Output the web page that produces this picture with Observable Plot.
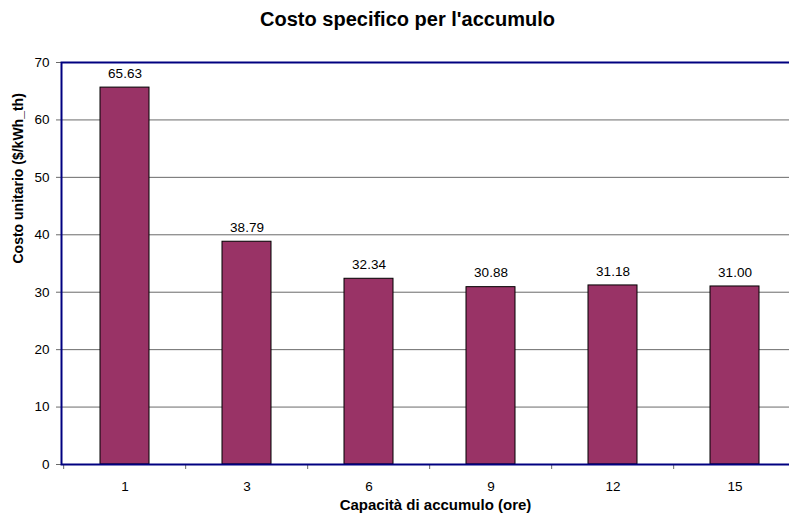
<!DOCTYPE html>
<html>
<head>
<meta charset="utf-8">
<script src="https://cdn.jsdelivr.net/npm/d3@7"></script>
<script src="https://cdn.jsdelivr.net/npm/@observablehq/plot@0.6"></script>
<style>
  html, body { margin: 0; padding: 0; background: #fff; overflow: hidden; width: 789px; height: 519px; }
  #title { font-family: "Liberation Sans", Arial, sans-serif; font-weight: bold; font-size: 20px;
           height: 24px; line-height: 24px; padding-top: 7px; text-align: center; width: 763px; padding-left: 26px; }
  #chart svg { display: block; }
</style>
</head>
<body>
<div id="title">Costo specifico per l'accumulo</div>
<div id="chart"></div>
<script>
const categories = ["1", "3", "6", "9", "12", "15"];
const values = [65.63, 38.79, 32.34, 30.88, 31.18, 31.00];
const labels = ["65.63", "38.79", "32.34", "30.88", "31.18", "31.00"];
const yTicks = [0, 10, 20, 30, 40, 50, 60, 70];
const yTitle = "Costo unitario ($/kWh_th)";
const xTitle = "Capacità di accumulo (ore)";

const data = categories.map((c, i) => ({cat: c, val: values[i], lab: labels[i]}));

const W = 789, ML = 61, XR = 797;
const step = (XR - ML) / categories.length;

const chart = Plot.plot({
  width: W,
  height: 488,
  marginTop: 31,
  marginBottom: 55,
  marginLeft: ML,
  marginRight: 0,
  style: {fontFamily: "'Liberation Sans', Arial, sans-serif", fontSize: "13.5px", color: "#000", background: "#fff", overflow: "hidden"},
  x: {domain: categories, range: [ML, XR], paddingInner: 0.6, paddingOuter: 0.3},
  y: {domain: [0, 70]},
  marks: [
    Plot.gridY(yTicks.filter(d => d > 0), {stroke: "#6a6a6a", strokeOpacity: 1, strokeWidth: 1}),
    Plot.barY(data, {x: "cat", y: "val", fill: "#993366", stroke: "#000", strokeWidth: 1}),
    Plot.text(data, {x: "cat", y: "val", text: "lab", dy: -14, fontSize: 13.5, fill: "#000"}),
    Plot.axisY(yTicks, {tickSize: 5, tickPadding: 7, stroke: "#6a6a6a", fontSize: 13.5, label: null}),
    Plot.axisX(categories, {tickSize: 0, tickPadding: 17, fontSize: 13.5, label: null}),
    Plot.ruleX(categories, {x: d => d, dx: -step / 2, y1: 0, y2: 0, insetTop: 0, insetBottom: -5, stroke: "#6a6a6a", strokeWidth: 1}),
    Plot.frame({stroke: "#000080", strokeWidth: 2, insetRight: -6}),
    Plot.text([yTitle], {frameAnchor: "left", rotate: -90, dx: -43, fontWeight: "bold", fontSize: 14}),
    Plot.text([xTitle], {frameAnchor: "bottom", dy: 45, dx: 10, fontWeight: "bold", fontSize: 15})
  ]
});
document.getElementById("chart").appendChild(chart);
</script>
</body>
</html>
